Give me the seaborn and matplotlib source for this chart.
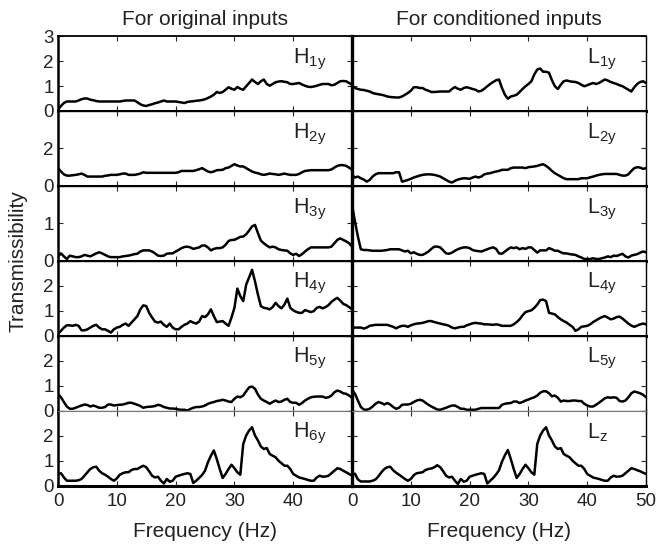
import numpy as np
import matplotlib
matplotlib.use('Agg')
import matplotlib.pyplot as plt
import seaborn as sns

# frequency grid (Hz), 0.5 Hz resolution
freq = np.arange(0, 50.5, 0.5)

# transmissibility, original inputs
h1y = [0.05, 0.20, 0.32, 0.38, 0.38, 0.38, 0.38, 0.42, 0.47, 0.50,
       0.50, 0.45, 0.43, 0.40, 0.38, 0.38, 0.38, 0.38, 0.38, 0.38,
       0.38, 0.38, 0.40, 0.42, 0.42, 0.42, 0.42, 0.35, 0.27, 0.22,
       0.20, 0.24, 0.27, 0.31, 0.34, 0.38, 0.42, 0.38, 0.38, 0.38,
       0.38, 0.36, 0.34, 0.32, 0.36, 0.38, 0.39, 0.41, 0.42, 0.44,
       0.47, 0.52, 0.58, 0.65, 0.76, 0.72, 0.76, 0.85, 0.95, 0.89,
       0.85, 0.96, 0.89, 0.85, 0.99, 1.12, 1.26, 1.16, 1.08, 1.19,
       1.26, 1.08, 1.01, 1.08, 1.15, 1.18, 1.19, 1.17, 1.15, 1.08,
       1.08, 1.10, 1.12, 1.06, 1.01, 0.97, 0.96, 0.98, 1.01, 1.05,
       1.08, 1.08, 1.08, 1.03, 1.05, 1.12, 1.19, 1.20, 1.19, 1.12,
       1.05]
h2y = [0.95, 0.77, 0.62, 0.55, 0.55, 0.57, 0.59, 0.62, 0.66, 0.59,
       0.50, 0.50, 0.50, 0.50, 0.50, 0.50, 0.54, 0.56, 0.59, 0.59,
       0.59, 0.62, 0.66, 0.66, 0.59, 0.59, 0.59, 0.62, 0.66, 0.73,
       0.70, 0.70, 0.70, 0.70, 0.70, 0.70, 0.70, 0.70, 0.70, 0.70,
       0.70, 0.73, 0.80, 0.80, 0.80, 0.80, 0.80, 0.84, 0.89, 0.95,
       0.86, 0.77, 0.73, 0.77, 0.84, 0.85, 0.86, 0.95, 0.98, 1.07,
       1.16, 1.09, 1.04, 1.04, 0.95, 0.86, 0.77, 0.71, 0.68, 0.62,
       0.59, 0.62, 0.66, 0.64, 0.62, 0.59, 0.62, 0.66, 0.62, 0.59,
       0.59, 0.59, 0.64, 0.73, 0.80, 0.82, 0.84, 0.84, 0.84, 0.84,
       0.84, 0.84, 0.84, 0.88, 0.98, 1.07, 1.11, 1.11, 1.07, 0.98,
       0.86]
h3y = [0.12, 0.20, 0.12, 0.05, 0.14, 0.12, 0.10, 0.10, 0.12, 0.16,
       0.14, 0.12, 0.16, 0.20, 0.23, 0.20, 0.16, 0.12, 0.10, 0.10,
       0.10, 0.10, 0.12, 0.13, 0.14, 0.16, 0.18, 0.19, 0.25, 0.28,
       0.28, 0.28, 0.25, 0.20, 0.14, 0.13, 0.14, 0.19, 0.20, 0.20,
       0.25, 0.29, 0.34, 0.37, 0.38, 0.36, 0.32, 0.34, 0.36, 0.41,
       0.41, 0.36, 0.28, 0.32, 0.34, 0.34, 0.36, 0.43, 0.53, 0.56,
       0.56, 0.60, 0.64, 0.65, 0.71, 0.81, 0.92, 0.96, 0.74, 0.54,
       0.47, 0.41, 0.36, 0.38, 0.36, 0.31, 0.29, 0.28, 0.27, 0.20,
       0.16, 0.19, 0.13, 0.18, 0.25, 0.31, 0.36, 0.36, 0.36, 0.36,
       0.36, 0.36, 0.36, 0.38, 0.47, 0.56, 0.60, 0.56, 0.52, 0.47,
       0.38]
h4y = [0.07, 0.20, 0.33, 0.42, 0.42, 0.40, 0.44, 0.40, 0.22, 0.22,
       0.26, 0.33, 0.40, 0.44, 0.33, 0.26, 0.26, 0.20, 0.13, 0.26,
       0.33, 0.36, 0.44, 0.49, 0.40, 0.53, 0.66, 0.79, 1.06, 1.22,
       1.19, 0.92, 0.73, 0.57, 0.53, 0.57, 0.44, 0.36, 0.49, 0.33,
       0.26, 0.26, 0.36, 0.44, 0.49, 0.59, 0.53, 0.49, 0.57, 0.79,
       0.75, 0.86, 1.06, 0.79, 0.55, 0.57, 0.59, 0.49, 0.40, 0.73,
       1.12, 1.89, 1.59, 1.39, 2.05, 2.34, 2.64, 2.18, 1.65, 1.19,
       1.12, 1.10, 1.06, 1.15, 1.32, 1.19, 1.10, 1.25, 1.49, 1.12,
       1.02, 0.96, 0.92, 0.92, 1.03, 0.99, 0.95, 0.99, 1.12, 1.16,
       1.10, 1.15, 1.23, 1.36, 1.45, 1.52, 1.41, 1.28, 1.23, 1.15,
       1.06]
h5y = [0.68, 0.54, 0.35, 0.17, 0.08, 0.08, 0.12, 0.17, 0.21, 0.25,
       0.23, 0.17, 0.21, 0.17, 0.12, 0.12, 0.15, 0.25, 0.25, 0.21,
       0.23, 0.24, 0.25, 0.28, 0.32, 0.32, 0.28, 0.24, 0.19, 0.12,
       0.15, 0.16, 0.17, 0.19, 0.24, 0.21, 0.15, 0.12, 0.09, 0.09,
       0.08, 0.05, 0.04, 0.04, 0.01, 0.07, 0.12, 0.15, 0.15, 0.17,
       0.21, 0.28, 0.32, 0.35, 0.39, 0.41, 0.44, 0.41, 0.37, 0.35,
       0.48, 0.57, 0.54, 0.61, 0.78, 0.94, 0.97, 0.88, 0.65, 0.48,
       0.41, 0.35, 0.28, 0.35, 0.41, 0.35, 0.37, 0.44, 0.48, 0.35,
       0.32, 0.32, 0.24, 0.31, 0.41, 0.48, 0.54, 0.56, 0.57, 0.57,
       0.57, 0.52, 0.54, 0.61, 0.74, 0.81, 0.77, 0.70, 0.68, 0.61,
       0.52]
h6y = [0.47, 0.50, 0.33, 0.20, 0.20, 0.20, 0.20, 0.22, 0.27, 0.40,
       0.54, 0.67, 0.74, 0.76, 0.60, 0.50, 0.44, 0.36, 0.27, 0.20,
       0.29, 0.44, 0.50, 0.54, 0.54, 0.63, 0.67, 0.67, 0.74, 0.80,
       0.74, 0.58, 0.40, 0.33, 0.36, 0.20, 0.09, 0.27, 0.16, 0.20,
       0.36, 0.40, 0.44, 0.47, 0.50, 0.47, 0.11, 0.20, 0.31, 0.43,
       0.60, 0.94, 1.20, 1.41, 1.07, 0.67, 0.31, 0.47, 0.67, 0.84,
       0.70, 0.54, 0.44, 1.67, 2.01, 2.21, 2.34, 2.01, 1.81, 1.57,
       1.47, 1.51, 1.27, 1.20, 1.14, 1.00, 0.90, 0.80, 0.80, 0.67,
       0.47, 0.40, 0.33, 0.30, 0.27, 0.23, 0.20, 0.20, 0.33, 0.40,
       0.36, 0.37, 0.40, 0.50, 0.60, 0.70, 0.67, 0.60, 0.54, 0.47,
       0.40]

# transmissibility, conditioned inputs
l1y = [0.99, 0.92, 0.88, 0.85, 0.84, 0.81, 0.78, 0.72, 0.69, 0.67,
       0.65, 0.62, 0.58, 0.56, 0.55, 0.54, 0.54, 0.58, 0.65, 0.72,
       0.81, 0.95, 0.95, 0.92, 0.92, 0.85, 0.81, 0.76, 0.76, 0.77,
       0.78, 0.78, 0.78, 0.78, 0.88, 0.96, 0.89, 0.85, 0.92, 0.95,
       0.92, 0.88, 0.85, 0.78, 0.81, 0.89, 0.99, 1.08, 1.16, 1.23,
       1.26, 0.92, 0.65, 0.49, 0.58, 0.61, 0.65, 0.76, 0.88, 0.99,
       1.08, 1.19, 1.46, 1.66, 1.70, 1.57, 1.57, 1.53, 1.23, 0.99,
       0.88, 1.05, 1.19, 1.22, 1.19, 1.17, 1.16, 1.12, 1.05, 0.99,
       1.03, 1.08, 1.12, 1.08, 1.12, 1.19, 1.26, 1.22, 1.16, 1.12,
       1.08, 1.03, 0.99, 0.92, 0.85, 0.78, 0.95, 1.08, 1.16, 1.19,
       1.12]
l2y = [0.59, 0.45, 0.50, 0.41, 0.34, 0.23, 0.32, 0.50, 0.62, 0.68,
       0.68, 0.68, 0.68, 0.68, 0.68, 0.73, 0.73, 0.23, 0.27, 0.32,
       0.38, 0.45, 0.50, 0.55, 0.59, 0.61, 0.62, 0.61, 0.59, 0.55,
       0.50, 0.41, 0.32, 0.23, 0.18, 0.27, 0.34, 0.38, 0.41, 0.40,
       0.38, 0.45, 0.50, 0.45, 0.50, 0.62, 0.66, 0.68, 0.73, 0.77,
       0.80, 0.86, 0.86, 0.86, 0.95, 0.98, 0.98, 0.98, 0.98, 0.95,
       1.00, 1.02, 1.04, 1.07, 1.12, 1.16, 1.07, 0.95, 0.80, 0.68,
       0.59, 0.50, 0.41, 0.36, 0.36, 0.36, 0.36, 0.36, 0.41, 0.41,
       0.41, 0.46, 0.50, 0.55, 0.59, 0.62, 0.64, 0.64, 0.64, 0.64,
       0.64, 0.59, 0.55, 0.55, 0.62, 0.80, 0.95, 1.00, 0.98, 0.91,
       0.95]
l3y = [1.50, 1.05, 0.65, 0.31, 0.29, 0.29, 0.28, 0.27, 0.27, 0.27,
       0.27, 0.28, 0.29, 0.31, 0.31, 0.31, 0.31, 0.28, 0.25, 0.27,
       0.20, 0.23, 0.19, 0.16, 0.16, 0.20, 0.25, 0.32, 0.38, 0.38,
       0.36, 0.28, 0.20, 0.19, 0.22, 0.27, 0.31, 0.34, 0.36, 0.36,
       0.34, 0.29, 0.27, 0.26, 0.25, 0.28, 0.31, 0.34, 0.36, 0.32,
       0.20, 0.19, 0.25, 0.31, 0.36, 0.34, 0.36, 0.31, 0.34, 0.32,
       0.36, 0.36, 0.29, 0.22, 0.28, 0.28, 0.28, 0.34, 0.31, 0.27,
       0.27, 0.23, 0.20, 0.20, 0.18, 0.17, 0.16, 0.12, 0.09, 0.05,
       0.05, 0.05, 0.07, 0.05, 0.05, 0.07, 0.09, 0.12, 0.10, 0.14,
       0.13, 0.16, 0.19, 0.12, 0.09, 0.14, 0.16, 0.18, 0.22, 0.25,
       0.23]
l4y = [0.33, 0.33, 0.33, 0.33, 0.29, 0.33, 0.40, 0.42, 0.44, 0.44,
       0.44, 0.44, 0.44, 0.40, 0.36, 0.30, 0.36, 0.40, 0.40, 0.36,
       0.42, 0.46, 0.49, 0.50, 0.52, 0.55, 0.59, 0.59, 0.55, 0.52,
       0.49, 0.46, 0.44, 0.40, 0.33, 0.30, 0.33, 0.36, 0.36, 0.42,
       0.46, 0.50, 0.52, 0.50, 0.49, 0.46, 0.46, 0.45, 0.44, 0.46,
       0.44, 0.40, 0.40, 0.40, 0.40, 0.46, 0.55, 0.66, 0.82, 0.95,
       0.99, 1.02, 1.12, 1.25, 1.43, 1.45, 1.39, 0.92, 0.89, 0.86,
       0.75, 0.66, 0.59, 0.53, 0.44, 0.36, 0.20, 0.26, 0.36, 0.38,
       0.40, 0.46, 0.55, 0.62, 0.69, 0.75, 0.79, 0.73, 0.66, 0.69,
       0.75, 0.77, 0.69, 0.59, 0.49, 0.41, 0.36, 0.41, 0.46, 0.49,
       0.46]
l5y = [0.84, 0.68, 0.41, 0.15, 0.05, 0.04, 0.08, 0.17, 0.28, 0.35,
       0.31, 0.25, 0.31, 0.25, 0.15, 0.08, 0.12, 0.24, 0.25, 0.25,
       0.28, 0.35, 0.41, 0.44, 0.41, 0.32, 0.24, 0.17, 0.11, 0.05,
       0.04, 0.08, 0.12, 0.17, 0.21, 0.21, 0.15, 0.08, 0.08, 0.04,
       0.04, 0.04, 0.04, 0.08, 0.11, 0.11, 0.11, 0.11, 0.11, 0.11,
       0.11, 0.24, 0.28, 0.30, 0.31, 0.37, 0.37, 0.31, 0.35, 0.41,
       0.45, 0.50, 0.54, 0.61, 0.72, 0.78, 0.78, 0.70, 0.58, 0.61,
       0.52, 0.37, 0.41, 0.39, 0.39, 0.41, 0.41, 0.39, 0.39, 0.28,
       0.21, 0.17, 0.17, 0.24, 0.32, 0.41, 0.50, 0.54, 0.52, 0.54,
       0.52, 0.39, 0.37, 0.41, 0.54, 0.70, 0.77, 0.74, 0.70, 0.64,
       0.54]
lz = [0.47, 0.48, 0.25, 0.17, 0.17, 0.17, 0.17, 0.20, 0.25, 0.38,
      0.54, 0.67, 0.74, 0.76, 0.62, 0.52, 0.44, 0.36, 0.27, 0.20,
      0.27, 0.42, 0.50, 0.52, 0.54, 0.63, 0.67, 0.69, 0.74, 0.82,
      0.74, 0.58, 0.40, 0.33, 0.36, 0.20, 0.07, 0.27, 0.16, 0.20,
      0.36, 0.40, 0.44, 0.47, 0.50, 0.47, 0.09, 0.20, 0.31, 0.45,
      0.62, 0.96, 1.22, 1.43, 1.07, 0.67, 0.31, 0.47, 0.67, 0.84,
      0.70, 0.54, 0.44, 1.67, 2.01, 2.21, 2.34, 2.01, 1.81, 1.57,
      1.47, 1.51, 1.27, 1.20, 1.14, 1.00, 0.90, 0.80, 0.80, 0.67,
      0.47, 0.40, 0.33, 0.30, 0.27, 0.23, 0.20, 0.20, 0.33, 0.40,
      0.36, 0.37, 0.40, 0.50, 0.60, 0.70, 0.67, 0.62, 0.58, 0.52,
      0.47]

left_series = [h1y, h2y, h3y, h4y, h5y, h6y]
right_series = [l1y, l2y, l3y, l4y, l5y, lz]
left_names = ['H_{1y}', 'H_{2y}', 'H_{3y}', 'H_{4y}', 'H_{5y}', 'H_{6y}']
right_names = ['L_{1y}', 'L_{2y}', 'L_{3y}', 'L_{4y}', 'L_{5y}', 'L_{z}']
col_titles = ['For original inputs', 'For conditioned inputs']

row_ymax = [3, 4, 2, 3, 3, 3]
row_ystep = [1, 2, 1, 1, 1, 1]

sns.set_style('ticks')
plt.rcParams['font.family'] = ['Liberation Sans', 'DejaVu Sans']
plt.rcParams['mathtext.default'] = 'regular'
txt_color = '#222222'

fig, axes = plt.subplots(6, 2, figsize=(6.57, 5.46), dpi=100)
fig.subplots_adjust(left=0.0883, right=0.9833, top=0.934, bottom=0.1104,
                    hspace=0, wspace=0)

for col, (series, names) in enumerate([(left_series, left_names),
                                       (right_series, right_names)]):
    for row in range(6):
        ax = axes[row, col]
        sns.lineplot(x=freq, y=series[row], ax=ax, color='k', linewidth=1.8,
                     estimator=None)
        ax.set_xlim(0, 50)
        ymax = row_ymax[row]
        ax.set_ylim(0, ymax)
        yt = np.arange(0, ymax + 0.01, row_ystep[row])
        ax.set_yticks(yt)
        ylabels = [str(int(v)) for v in yt]
        if row > 0:
            ylabels[-1] = ''
        if col == 0:
            ax.set_yticklabels(ylabels)
        else:
            ax.set_yticklabels([])
        ax.set_xticks([0, 10, 20, 30, 40, 50])
        if row == 5:
            if col == 0:
                ax.set_xticklabels(['0', '10', '20', '30', '40', ''])
            else:
                ax.set_xticklabels(['0', '10', '20', '30', '40', '50'])
            ax.set_xlabel('Frequency (Hz)', fontsize=15, color=txt_color,
                          labelpad=9)
        else:
            ax.set_xticklabels([])
            ax.set_xlabel('')
        ax.set_ylabel('')
        ax.tick_params(direction='in', top=True, right=True, length=3.5,
                       width=0.8, labelsize=13.5, labelcolor=txt_color,
                       pad=3)
        ax.tick_params(axis='x', pad=5)

        for sp in ax.spines.values():
            sp.set_color('k')
            sp.set_linewidth(1.0)
        ax.spines['bottom'].set_linewidth(2.2)
        ax.spines['left'].set_linewidth(1.8 if col == 0 else 2.4)
        if row == 4:
            ax.spines['bottom'].set_linewidth(1.0)
            ax.spines['bottom'].set_color('#777777')
        if row == 5:
            ax.spines['top'].set_linewidth(0.8)
            ax.spines['top'].set_color('#777777')
        if row == 0:
            ax.spines['top'].set_linewidth(1.3)

        ax.text(0.80, 0.86, '$' + names[row] + '$', transform=ax.transAxes,
                fontsize=15.5, va='top', ha='left', color=txt_color)

    axes[0, col].set_title(col_titles[col], fontsize=15, color=txt_color,
                           pad=8)

fig.text(0.027, (0.934 + 0.1104) / 2, 'Transmissibility', rotation=90,
         va='center', ha='center', fontsize=15, color=txt_color)

fig.savefig('out.png', dpi=100)
